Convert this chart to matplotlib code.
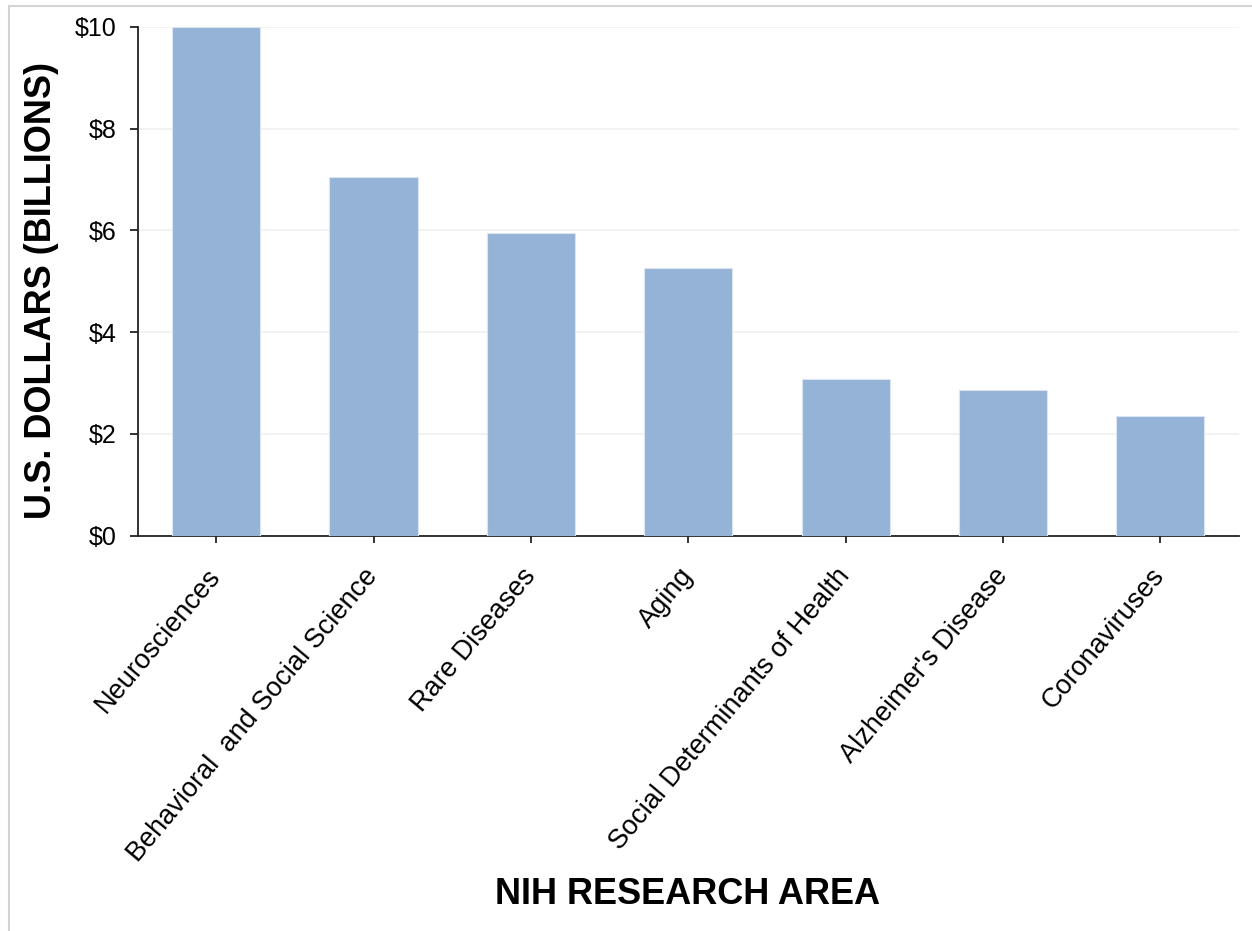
import matplotlib
matplotlib.use("Agg")
import matplotlib.pyplot as plt
from matplotlib.lines import Line2D
from matplotlib.transforms import ScaledTranslation

plt.rcParams['font.family'] = ['Liberation Sans', 'DejaVu Sans']

# NIH funding by research area, billions of US dollars
areas = ["Neurosciences", "Behavioral  and Social Science", "Rare Diseases", "Aging",
         "Social Determinants of Health", "Alzheimer's Disease", "Coronaviruses"]
funding = [10.0, 7.04, 5.94, 5.26, 3.07, 2.87, 2.35]
yticks = [0, 2, 4, 6, 8, 10]
ytick_labels = ["$0", "$2", "$4", "$6", "$8", "$10"]

W, H = 1252, 931
fig = plt.figure(figsize=(W / 100, H / 100), dpi=100)

# thin grey frame along top and left edge of the picture
fig.add_artist(Line2D([9 / W, 1], [1 - 6 / H, 1 - 6 / H], color='#d4d4d4', lw=1.5))
fig.add_artist(Line2D([9 / W, 9 / W], [0, 1 - 6 / H], color='#d4d4d4', lw=1.5))

left, right, top, bottom = 137.5, 1239, 26.7, 535.7
ax = fig.add_axes([left / W, 1 - bottom / H, (right - left) / W, (bottom - top) / H])

x = range(len(areas))
ax.bar(x, funding, width=0.56, color='#95b3d7', edgecolor='#dbe5f1', linewidth=0.8, zorder=3)

ax.set_xlim(-0.5, len(areas) - 0.5)
ax.set_ylim(0, 10)
ax.set_yticks(yticks)
ax.set_yticklabels(ytick_labels, fontsize=18)
ax.set_xticks(list(x))
ax.set_xticklabels(areas, fontsize=19.5, rotation=50, ha='right', va='center',
                   rotation_mode='anchor')

# shift the slanted labels a little to the left, like the original
shift = ScaledTranslation(-18 / 100, 0, fig.dpi_scale_trans)
for lab in ax.get_xticklabels():
    lab.set_transform(lab.get_transform() + shift)

ax.grid(axis='y', color='#f0f0f0', linewidth=1.2, zorder=0)
for s in ['top', 'right']:
    ax.spines[s].set_visible(False)
for s in ['left', 'bottom']:
    ax.spines[s].set_color('#222222')
    ax.spines[s].set_linewidth(1.3)
ax.tick_params(axis='y', length=6, width=1.3, color='#222222', pad=9)
ax.tick_params(axis='x', length=5, width=1.3, color='#222222', pad=21)

fig.text(41.5 / W, 1 - 290.5 / H, "U.S. DOLLARS (BILLIONS)", rotation=90,
         ha='center', va='center', fontsize=26, fontweight='bold')
fig.text(688 / W, 1 - 895 / H, "NIH RESEARCH AREA",
         ha='center', va='center', fontsize=26, fontweight='bold')

fig.savefig("out.png", dpi=100, facecolor='white')
